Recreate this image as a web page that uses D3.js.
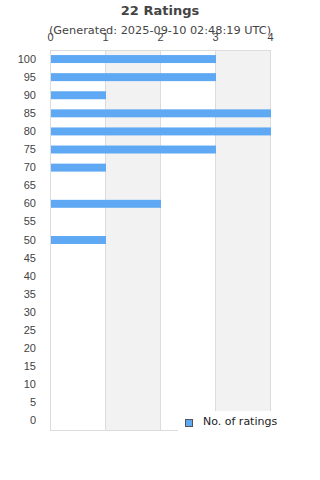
<!DOCTYPE html>
<html>
<head>
<meta charset="utf-8">
<script src="https://cdn.jsdelivr.net/npm/d3@7"></script>
<style>
  body { margin: 0; background: #fff; }
  svg { font-family: "DejaVu Sans", sans-serif; }
</style>
</head>
<body>
<div id="chart"></div>
<script>
// ratings buckets, top to bottom
var categories = ["100","95","90","85","80","75","70","65","60","55","50","45","40","35","30","25","20","15","10","5","0"];
var counts     = [3, 3, 1, 4, 4, 3, 1, 0, 2, 0, 1, 0, 0, 0, 0, 0, 0, 0, 0, 0, 0];
var xTicks = [0, 1, 2, 3, 4];
var titleText = "22 Ratings";
var subtitleText = "(Generated: 2025-09-10 02:48:19 UTC)";
var legendText = "No. of ratings";

var width = 320, height = 480;
var plot = {left: 50, top: 50, right: 270, bottom: 430};

var svg = d3.select("#chart").append("svg")
    .attr("width", width)
    .attr("height", height);

var xScale = d3.scaleLinear()
    .domain([0, 4])
    .range([plot.left, plot.right]);
var yScale = d3.scaleBand()
    .domain(categories)
    .range([plot.top, plot.bottom])
    .paddingInner(0.56)
    .paddingOuter(0.28);

// alternating bands
svg.append("g").selectAll("rect")
    .data(xTicks.slice(0, -1))
    .enter().append("rect")
    .attr("x", function (d) { return xScale(d); })
    .attr("y", plot.top)
    .attr("width", function (d) { return xScale(d + 1) - xScale(d); })
    .attr("height", plot.bottom - plot.top)
    .attr("fill", function (d, i) { return i % 2 ? "#f2f2f2" : "#fff"; });

// grid lines
svg.append("g").selectAll("line")
    .data(xTicks)
    .enter().append("line")
    .attr("x1", function (d) { return xScale(d) + 0.5; })
    .attr("x2", function (d) { return xScale(d) + 0.5; })
    .attr("y1", plot.top)
    .attr("y2", plot.bottom)
    .attr("stroke", "#dcdcdc")
    .attr("stroke-width", 1);

svg.append("line")
    .attr("x1", plot.left).attr("x2", plot.right + 1)
    .attr("y1", plot.top + 0.5).attr("y2", plot.top + 0.5)
    .attr("stroke", "#dcdcdc");
svg.append("line")
    .attr("x1", plot.left).attr("x2", plot.right + 1)
    .attr("y1", plot.bottom + 0.5).attr("y2", plot.bottom + 0.5)
    .attr("stroke", "#dcdcdc");

// bars
svg.append("g").selectAll("rect")
    .data(counts)
    .enter().append("rect")
    .attr("x", xScale(0) + 1)
    .attr("y", function (d, i) { return yScale(categories[i]); })
    .attr("width", function (d) { return Math.max(0, xScale(d) - xScale(0)); })
    .attr("height", yScale.bandwidth())
    .attr("fill", "#5fa8f3");

// top axis
var gx = svg.append("g")
    .attr("transform", "translate(0," + (plot.top - 6) + ")")
    .call(d3.axisTop(xScale).tickValues(xTicks).tickSize(0).tickFormat(d3.format("d")));
gx.select(".domain").remove();
gx.selectAll("text")
    .attr("fill", "#444")
    .style("font-size", "11px");

// left axis
var gy = svg.append("g")
    .attr("transform", "translate(" + (plot.left - 11) + ",0)")
    .call(d3.axisLeft(yScale).tickSize(0));
gy.select(".domain").remove();
gy.selectAll("text")
    .attr("fill", "#444")
    .style("font-size", "11px");

// titles
svg.append("text")
    .attr("x", 160).attr("y", 15)
    .attr("text-anchor", "middle")
    .attr("font-weight", "bold")
    .attr("font-size", "13px")
    .attr("fill", "#444")
    .text(titleText);
svg.append("text")
    .attr("x", 160).attr("y", 34)
    .attr("text-anchor", "middle")
    .attr("font-size", "11.3px")
    .attr("fill", "#444")
    .text(subtitleText);

// legend
var lg = svg.append("g");
lg.append("rect")
    .attr("x", 178).attr("y", 411)
    .attr("width", 142).attr("height", 22)
    .attr("fill", "#fff");
lg.append("rect")
    .attr("x", 185.5).attr("y", 419.5)
    .attr("width", 7).attr("height", 7)
    .attr("fill", "#5fa8f3")
    .attr("stroke", "#555");
lg.append("text")
    .attr("x", 203).attr("y", 425)
    .attr("font-size", "11px")
    .attr("fill", "#222")
    .text(legendText);
</script>
</body>
</html>
